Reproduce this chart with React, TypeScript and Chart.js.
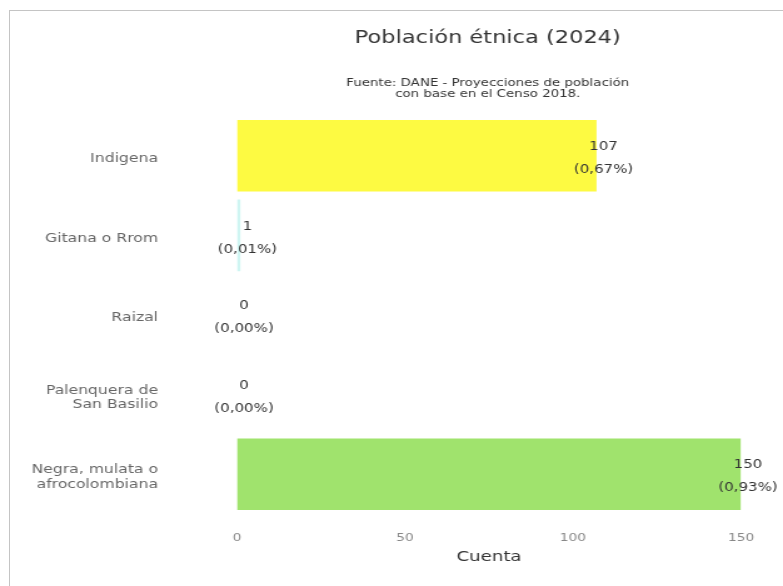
import React, { useEffect, useRef } from "react";
import { Chart, registerables } from "chart.js";

Chart.register(...registerables);

const categories: (string | string[])[] = [
  "Indigena",
  "Gitana o Rrom",
  "Raizal",
  ["Palenquera de", "San Basilio"],
  ["Negra, mulata o", "afrocolombiana"],
];
const counts = [107, 1, 0, 0, 150];
const percentLabels = ["(0,67%)", "(0,01%)", "(0,00%)", "(0,00%)", "(0,93%)"];
const barColors = ["#fdfa42", "#cff5f2", "#cccccc", "#cccccc", "#a0e36d"];
const xMin = 0;
const xMax = 150;
const xStep = 50;
const chartTitle = "Población étnica (2024)";
const chartSubtitle = ["Fuente: DANE - Proyecciones de población", "con base en el Censo 2018."];
const xAxisTitle = "Cuenta";

const FONT = "'DejaVu Sans', Verdana, sans-serif";

// The reference picture is horizontally stretched; the chart is drawn on a
// narrower canvas that is displayed at full width.
const PAGE_W = 783;
const PAGE_H = 586;
const CANVAS_W = 626;
const SX = PAGE_W / CANVAS_W;

const valueLabelPlugin = {
  id: "valueLabels",
  afterDatasetsDraw(chart: any) {
    const ctx = chart.ctx;
    const meta = chart.getDatasetMeta(0);
    ctx.save();
    ctx.font = `12px ${FONT}`;
    ctx.fillStyle = "#333333";
    ctx.textAlign = "center";
    ctx.textBaseline = "middle";
    meta.data.forEach((el: any, i: number) => {
      const x = el.x + 7 / SX;
      const y = el.y + 2;
      ctx.fillText(String(counts[i]), x, y - 11);
      ctx.fillText(percentLabels[i], x, y + 12);
    });
    ctx.restore();
  },
};

const titlePlugin = {
  id: "customTitle",
  afterDraw(chart: any) {
    const ctx = chart.ctx;
    const area = chart.chartArea;
    const cx = (area.left + area.right) / 2 - 1;
    ctx.save();
    ctx.textAlign = "center";
    ctx.textBaseline = "middle";
    ctx.fillStyle = "#333333";
    ctx.font = `18px ${FONT}`;
    ctx.fillText(chartTitle, cx, area.top - 78);
    ctx.font = `10.7px ${FONT}`;
    chartSubtitle.forEach((line, i) => {
      ctx.fillText(line, cx, area.top - 33 + i * 11);
    });
    ctx.restore();
  },
};

export default function App() {
  const canvasRef = useRef<HTMLCanvasElement | null>(null);

  useEffect(() => {
    if (!canvasRef.current) return;
    const plotLeft = 237 / SX;
    const plotRight = 741 / SX;
    const labelRight = 158 / SX;
    const chart = new Chart(canvasRef.current, {
      type: "bar",
      data: {
        labels: categories as any,
        datasets: [
          {
            data: counts,
            backgroundColor: barColors,
            borderWidth: 0,
            barPercentage: 0.9,
            categoryPercentage: 1.0,
          },
        ],
      },
      options: {
        indexAxis: "y",
        animation: false,
        responsive: false,
        devicePixelRatio: 1,
        layout: { padding: { top: 116, right: CANVAS_W - plotRight, bottom: 10, left: 0 } },
        plugins: {
          legend: { display: false },
          tooltip: { enabled: false },
          title: { display: false },
        },
        scales: {
          x: {
            min: xMin,
            max: xMax,
            grid: { display: false, drawTicks: false },
            border: { display: false },
            ticks: {
              stepSize: xStep,
              padding: 18,
              color: "#888888",
              font: { family: FONT, size: 11 },
            },
            title: {
              display: true,
              text: xAxisTitle,
              color: "#333333",
              font: { family: FONT, size: 14.5 },
              padding: { top: 0, bottom: 10 },
            },
            afterFit(scale: any) {
              scale.height = 62;
            },
          },
          y: {
            grid: { display: false, drawTicks: false },
            border: { display: false },
            ticks: {
              padding: plotLeft - labelRight,
              labelOffset: 3,
              color: "#666666",
              font: { family: FONT, size: 12.5, lineHeight: 1.15 },
            },
            afterFit(scale: any) {
              scale.width = plotLeft;
              scale.paddingTop = 0;
              scale.paddingBottom = 0;
            },
          },
        },
      },
      plugins: [valueLabelPlugin, titlePlugin],
    });
    return () => chart.destroy();
  }, []);

  return (
    <div style={{ position: "fixed", left: 0, top: 0, width: PAGE_W, height: PAGE_H, background: "#ffffff" }}>
      <div
        style={{
          position: "absolute",
          left: 9,
          top: 10,
          right: 0,
          bottom: 0,
          borderTop: "1px solid #c4c4c4",
          borderLeft: "1px solid #c4c4c4",
        }}
      />
      <canvas
        ref={canvasRef}
        width={CANVAS_W}
        height={PAGE_H}
        style={{ position: "absolute", left: 0, top: 0, width: PAGE_W, height: PAGE_H }}
      />
    </div>
  );
}
